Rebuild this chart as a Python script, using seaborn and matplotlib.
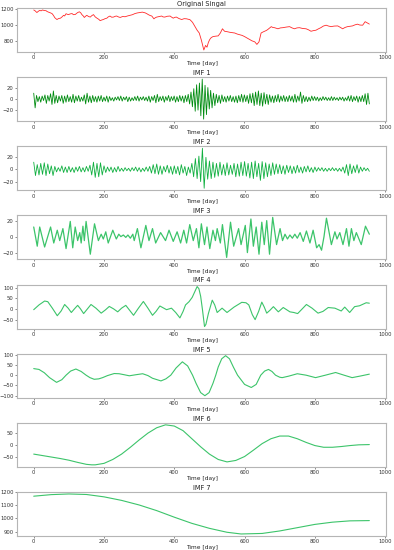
import numpy as np
import matplotlib
matplotlib.use("Agg")
import matplotlib.pyplot as plt
import seaborn as sns

# Original signal (read at irregular days)
orig_days = [0, 3, 9, 13, 17, 21, 25, 30, 35, 38, 42, 47, 52, 56, 60, 63, 66, 71, 76, 80,
             85, 88, 92, 96, 99, 104, 109, 113, 118, 122, 125, 130, 134, 137, 141, 144, 148, 151, 156, 161,
             165, 170, 175, 180, 185, 189, 194, 198, 203, 208, 212, 217, 222, 227, 232, 236, 241, 246, 253, 260,
             267, 274, 281, 288, 295, 302, 309, 317, 322, 326, 331, 336, 342, 346, 350, 357, 364, 368, 373, 380,
             388, 392, 397, 401, 406, 413, 421, 428, 435, 440, 444, 448, 452, 458, 465, 471, 477, 484, 489, 493,
             497, 501, 505, 510, 517, 525, 531, 537, 543, 550, 558, 565, 572, 579, 586, 593, 600, 607, 614, 621,
             629, 635, 641, 647, 652, 657, 662, 666, 671, 676, 680, 685, 690, 695, 702, 709, 718, 728, 735, 742,
             749, 756, 765, 775, 782, 789, 796, 803, 810, 817, 824, 832, 839, 846, 855, 865, 872, 879, 886, 893,
             900, 907, 914, 921, 928, 936, 943, 950, 955]
orig_vals = [1187, 1180, 1155, 1170, 1182, 1176, 1187, 1180, 1178, 1168, 1160, 1152, 1142, 1120, 1090, 1078, 1067, 1080, 1084, 1098,
             1120, 1112, 1140, 1132, 1129, 1138, 1142, 1128, 1130, 1145, 1155, 1164, 1150, 1129, 1112, 1093, 1110, 1120, 1105, 1098,
             1115, 1129, 1100, 1084, 1070, 1053, 1062, 1067, 1078, 1084, 1100, 1111, 1096, 1098, 1108, 1111, 1100, 1093, 1105, 1102,
             1112, 1120, 1128, 1142, 1150, 1155, 1160, 1151, 1140, 1129, 1118, 1111, 1076, 1090, 1098, 1104, 1111, 1100, 1098, 1108,
             1111, 1098, 1084, 1094, 1098, 1080, 1067, 1078, 1076, 1070, 1067, 1050, 1031, 987, 933, 898, 809, 685, 742, 720,
             780, 818, 840, 853, 858, 862, 898, 951, 920, 915, 907, 902, 898, 885, 876, 868, 853, 835, 818, 800,
             787, 755, 787, 898, 910, 920, 930, 942, 960, 978, 968, 965, 958, 951, 962, 965, 972, 978, 962, 951,
             962, 965, 955, 951, 938, 920, 928, 933, 950, 965, 985, 996, 985, 978, 985, 987, 970, 951, 968, 978,
             982, 987, 1000, 1009, 998, 996, 1040, 1022, 1010]

# IMF 1, every 4 days
imf1_days = np.arange(0, 957, 4)
imf1_vals = [10, -16, 6, -5, 4, -6, 5, -3, 7, -8, 6, -4, 9, -10, 14, -8, 6, -7, 5, -4,
             6, -8, 5, -6, 7, -5, 4, -6, 8, -7, 5, -4, 6, -5, 3, -4, 7, -9, 10, -6,
             5, -7, 6, -5, 4, -6, 5, -4, 6, -5, 3, -4, 5, -6, 4, -3, 2, -4, 3, -2,
             4, -3, 5, -4, 3, -2, 4, -5, 3, -4, 2, -3, 4, -3, 5, -4, 3, -2, 4, -3,
             3, -4, 5, -6, 4, -3, 6, -7, 8, -5, 4, -3, 5, -6, 4, -3, 6, -5, 4, -3,
             5, -6, 4, -5, 6, -4, 5, -7, 6, -5, 8, -9, 12, -14, 18, -22, 25, -20, 28, -30,
             35, -36, 24, -28, 20, -18, 15, -16, 10, -12, 8, -7, 6, -8, 7, -5, 4, -6, 5, -4,
             6, -5, 4, -6, 5, -7, 6, -5, 8, -6, 7, -5, 6, -8, 9, -7, 10, -12, 12, -10,
             14, -12, 10, -13, 11, -9, 8, -10, 7, -6, 5, -7, 6, -5, 8, -6, 5, -4, 6, -5,
             4, -5, 6, -4, 5, -6, 8, -6, 5, -4, 12, -8, 6, -5, 4, -5, 3, -4, 5, -3,
             4, -3, 3, -4, 2, -3, 4, -2, 3, -3, 2, -3, 4, -3, 3, -2, 2, -3, 3, -2,
             3, -4, 2, -3, 5, -4, 6, -5, 4, -3, 5, -6, 4, -5, 6, -5, 9, -10, 10, -9]

# IMF 2, every 5 days
imf2_days = np.arange(0, 956, 5)
imf2_vals = [12, -10, 8, -9, 10, -8, 11, -10, 9, -7, 6, -10, 5, -4, 3, -3, 6, -5, 4, -5,
             5, -4, 3, -5, 4, -3, 5, -4, 3, -4, 5, -3, 7, -9, 12, -13, 10, -12, 11, -9,
             6, -5, 4, -3, 4, -5, 3, -4, 5, -3, 2, -3, 3, -2, 2, -3, 3, -2, 4, -3,
             3, -4, 2, -3, 4, -3, 5, -6, 8, -7, 9, -8, 6, -8, 5, -4, 7, -6, 5, -8,
             6, -7, 5, -9, 8, -6, 5, -10, 4, -6, 10, -12, 18, -15, 22, -20, 35, -31, 20, -16,
             14, -15, 12, -13, 10, -11, 12, -9, 8, -10, 11, -9, 7, -8, 10, -12, 9, -11, 12, -10,
             13, -11, 10, -14, 12, -15, 14, -12, 10, -18, 13, -15, 11, -12, 9, -10, 11, -8, 9, -7,
             8, -7, 6, -8, 7, -5, 6, -7, 5, -6, 7, -5, 4, -6, 5, -4, 6, -4, 3, -5,
             4, -3, 3, -2, 3, -3, 2, -3, 2, -2, 3, -2, 2, -3, 2, -3, 4, -6, 8, -10,
             9, -7, 6, -5, 8, -6, 4, -3, 3, -2, 2, -3]

# IMF 3 (turning points)
imf3_days = [0, 10, 17, 31, 48, 57, 67, 74, 83, 92, 104, 111, 118, 125, 131, 135, 140, 144, 149, 161,
             173, 184, 192, 198, 205, 212, 225, 235, 242, 248, 255, 262, 268, 275, 282, 286, 295, 305, 319, 328,
             338, 347, 361, 375, 385, 397, 408, 418, 427, 435, 444, 454, 463, 470, 477, 486, 493, 501, 510, 517,
             522, 531, 537, 549, 560, 569, 583, 590, 602, 608, 618, 625, 633, 641, 649, 656, 663, 671, 680, 691,
             701, 708, 715, 722, 729, 736, 743, 750, 758, 767, 776, 786, 795, 805, 812, 819, 826, 833, 847, 857,
             863, 871, 880, 890, 897, 904, 911, 918, 932, 944, 955]
imf3_vals = [12, -12, 12, -13, 12, -8, 8, -5, 10, -15, 19, -14, 12, -5, 5, -8, 13, -5, 19, -22,
             16, -5, 3, -3, 6, -8, 8, -3, 3, 0, 2, -1, 2, -2, 3, -5, 10, -14, 14, -5,
             10, -8, 5, -5, 8, -6, 6, -8, 8, -8, 15, -5, 10, -14, 16, -10, 12, -15, 8, -5,
             10, -8, 15, -26, 18, -12, 10, -10, 14, -20, 22, -12, 12, -22, 18, -10, 20, -22, 24, -10,
             10, -5, 3, -3, 2, -2, 3, -2, 5, -6, 7, -8, 8, -14, -10, -17, 0, 23, -10, 6,
             -3, 5, -10, 10, -12, 10, -5, 5, -10, 13, 3]

# IMF 4 (turning points and shoulders)
imf4_days = [0, 15, 31, 40, 53, 67, 78, 88, 98, 107, 116, 125, 133, 142, 152, 163, 177, 192, 204, 215,
             227, 239, 250, 262, 273, 284, 298, 312, 325, 338, 348, 359, 378, 392, 404, 416, 425, 432, 442, 451,
             458, 465, 470, 475, 480, 486, 490, 497, 508, 515, 522, 536, 550, 570, 592, 604, 612, 622, 630, 640,
             649, 656, 663, 672, 682, 696, 710, 729, 740, 751, 763, 776, 792, 809, 823, 838, 857, 875, 885, 899,
             913, 927, 946, 955]
imf4_vals = [-2, 20, 38, 35, 5, -30, -8, 22, 5, -15, 2, 18, 2, -20, 0, 22, 5, -18, -3, 13,
             2, -12, 5, 18, -5, -28, 5, 36, 5, -28, -10, 15, -2, 5, -15, -40, -10, 20, 35, 55,
             80, 105, 95, 60, 0, -80, -70, -20, 42, 20, -15, 5, -15, 10, 32, 30, 20, -25, -48, -10,
             33, 10, -18, -5, 12, -12, 8, -12, -15, -20, 0, 22, 5, -18, -10, 8, 5, -8, 10, -15,
             12, 16, 30, 28]

# IMF 5
imf5_days = [0, 15, 30, 45, 65, 80, 92, 105, 120, 135, 149, 160, 172, 185, 196, 210, 229, 243, 258, 272,
             290, 310, 325, 338, 362, 376, 390, 405, 423, 438, 452, 462, 475, 487, 499, 510, 518, 525, 535, 546,
             557, 568, 580, 600, 619, 633, 646, 657, 668, 678, 688, 700, 707, 725, 750, 775, 802, 830, 859, 883,
             906, 930, 955]
imf5_vals = [32, 28, 12, -12, -35, -22, 0, 20, 30, 18, 0, -12, -20, -18, -12, -2, 8, 7, 2, -3,
             2, 7, -2, -15, -28, -18, 0, 35, 65, 45, 0, -40, -85, -100, -85, -40, 0, 40, 80, 95,
             80, 40, 0, -45, -60, -45, 0, 20, 28, 18, 0, -10, -12, -5, 7, 0, -12, 0, 13, 0,
             -12, -4, 5]

# IMF 6
imf6_days = [0, 25, 50, 75, 100, 125, 150, 165, 175, 200, 225, 250, 275, 300, 325, 350, 375, 400, 425, 450,
             475, 500, 525, 550, 575, 600, 625, 650, 675, 700, 725, 750, 775, 800, 825, 850, 875, 900, 925, 955]
imf6_vals = [-38, -44, -50, -56, -63, -72, -80, -82, -82, -76, -60, -38, -10, 20, 48, 70, 82, 77, 58, 25,
             -8, -38, -60, -70, -64, -48, -22, 5, 25, 36, 36, 25, 10, -3, -10, -10, -7, -3, 0, 1]

# IMF 7 (residual trend)
imf7_days = [0, 50, 100, 150, 200, 250, 300, 350, 400, 450, 500, 550, 590, 650, 700, 750, 800, 850, 900, 955]
imf7_vals = [1170, 1182, 1187, 1183, 1165, 1138, 1103, 1060, 1010, 963, 925, 895, 882, 886, 905, 930, 955, 972, 982, 984]

titles = ["Original Singal", "IMF 1", "IMF 2", "IMF 3", "IMF 4", "IMF 5", "IMF 6", "IMF 7"]
series = [(orig_days, orig_vals), (imf1_days, imf1_vals), (imf2_days, imf2_vals), (imf3_days, imf3_vals),
          (imf4_days, imf4_vals), (imf5_days, imf5_vals), (imf6_days, imf6_vals), (imf7_days, imf7_vals)]
colors = ["#ff2a2a", "#008c10", "#10b040", "#3cc46a", "#3cc46a", "#3cc46a", "#3cc46a", "#3cc46a"]
widths = [0.6, 0.6, 0.6, 0.9, 0.8, 0.8, 0.8, 0.8]

sns.set_style("ticks")
plt.rcParams["font.family"] = ["DejaVu Sans"]

fig, axes = plt.subplots(8, 1, figsize=(3.94, 5.5), dpi=100)
fig.subplots_adjust(left=0.043, right=0.98, top=0.9855, bottom=0.0255, hspace=0.571)

for ax, (d, v), t, c, w in zip(axes, series, titles, colors, widths):
    sns.lineplot(x=np.asarray(d), y=np.asarray(v), ax=ax, color=c, linewidth=w,
                 solid_joinstyle="round")
    ax.set_title(t, fontsize=4.8, pad=1.5, color="#222222")
    ax.set_xlabel("Time [day]", fontsize=4.2, labelpad=0.5, color="#222222")
    ax.set_xticks([0, 200, 400, 600, 800, 1000])
    ax.tick_params(labelsize=3.8, length=1.5, width=0.4, pad=1, colors="#333333")
    for s in ax.spines.values():
        s.set_color("#b5b5b5")
        s.set_linewidth(0.8)

axes[0].set_yticks([800, 1000, 1200])
axes[1].set_yticks([-20, 0, 20])
axes[2].set_yticks([-20, 0, 20])
axes[3].set_yticks([-20, 0, 20])
axes[4].set_yticks([-50, 0, 50, 100])
axes[5].set_yticks([-100, -50, 0, 50, 100])
axes[6].set_yticks([-50, 0, 50])
axes[7].set_yticks([900, 1000, 1100, 1200])

fig.savefig("out.png", dpi=100)
